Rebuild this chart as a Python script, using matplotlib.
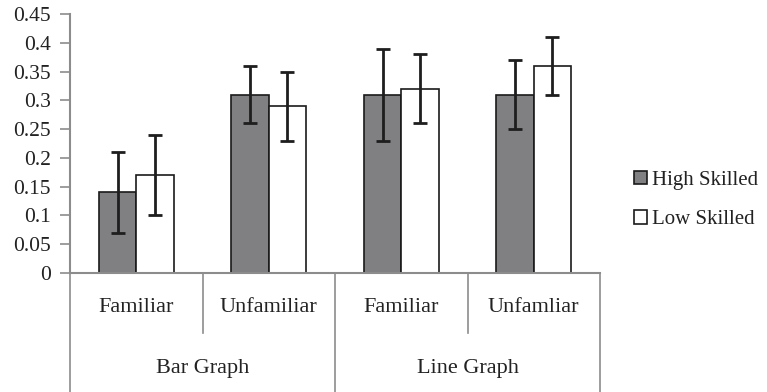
import numpy as np
import matplotlib.pyplot as plt

plt.rcParams['font.family'] = ['Liberation Serif', 'DejaVu Serif']

conditions = ["Familiar", "Unfamiliar", "Familiar", "Unfamliar"]
graph_types = ["Bar Graph", "Line Graph"]
series = ["High Skilled", "Low Skilled"]

high_mean = [0.14, 0.31, 0.31, 0.31]
high_err = [0.07, 0.05, 0.08, 0.06]
low_mean = [0.17, 0.29, 0.32, 0.36]
low_err = [0.07, 0.06, 0.06, 0.05]

y_ticks = [0, 0.05, 0.1, 0.15, 0.2, 0.25, 0.3, 0.35, 0.4, 0.45]

W, H = 767, 392
TICK_FS = 15.5
LABEL_FS = 16
LEGEND_FS = 15
TXT = '#222222'
fig = plt.figure(figsize=(W / 100, H / 100), dpi=100)
ax = fig.add_axes([70 / W, (H - 273) / H, 530 / W, 259 / H])

x = np.arange(len(conditions))
bw = 0.283
err_kw = dict(ecolor='#1e1e1e', elinewidth=2, capsize=5, capthick=2)
ax.bar(x - bw / 2, high_mean, bw, yerr=high_err, color='#808083',
       edgecolor='#1a1a1a', linewidth=1.2, label=series[0], error_kw=err_kw,
       zorder=2)
ax.bar(x + bw / 2, low_mean, bw, yerr=low_err, color='white',
       edgecolor='#1a1a1a', linewidth=1.2, label=series[1], error_kw=err_kw,
       zorder=2)

ax.set_xlim(-0.5, len(conditions) - 0.5)
ax.set_ylim(0, 0.45)
ax.set_yticks(y_ticks)
ax.set_yticklabels(['%g' % v for v in y_ticks], fontsize=TICK_FS, color=TXT)
ax.tick_params(axis='y', length=7, width=1.2, color='#8c8c8c', pad=7)
ax.set_xticks([])

for side in ('top', 'right'):
    ax.spines[side].set_visible(False)
for side in ('left', 'bottom'):
    ax.spines[side].set_color('#8c8c8c')
    ax.spines[side].set_linewidth(1.5)

# two-level category axis below the plot
tr = ax.get_xaxis_transform()
line_kw = dict(color='#8c8c8c', lw=1.2, clip_on=False, transform=tr)
bottom = -(H - 273 + 2) / 259
inner = -(333 - 273) / 259
for i, edge in enumerate(np.arange(len(conditions) + 1) - 0.5):
    y_end = bottom if i % 2 == 0 else inner
    ax.plot([edge, edge], [0, y_end], **line_kw)

for xi, name in zip(x, conditions):
    ax.text(xi, -35 / 259, name, transform=tr, ha='center', va='center',
            fontsize=LABEL_FS, color=TXT)
for gi, name in enumerate(graph_types):
    ax.text(2 * gi + 0.5, -96 / 259, name, transform=tr, ha='center',
            va='center', fontsize=LABEL_FS, color=TXT)

ax.legend(loc='center left', bbox_to_anchor=(634 / W, (H - 200) / H),
          bbox_transform=fig.transFigure, frameon=False, fontsize=LEGEND_FS,
          handlelength=0.6, handleheight=0.6, handletextpad=0.25,
          labelspacing=1.0, borderaxespad=0, borderpad=0)
for t in ax.get_legend().get_texts():
    t.set_color(TXT)

fig.savefig('out.png', dpi=100)
